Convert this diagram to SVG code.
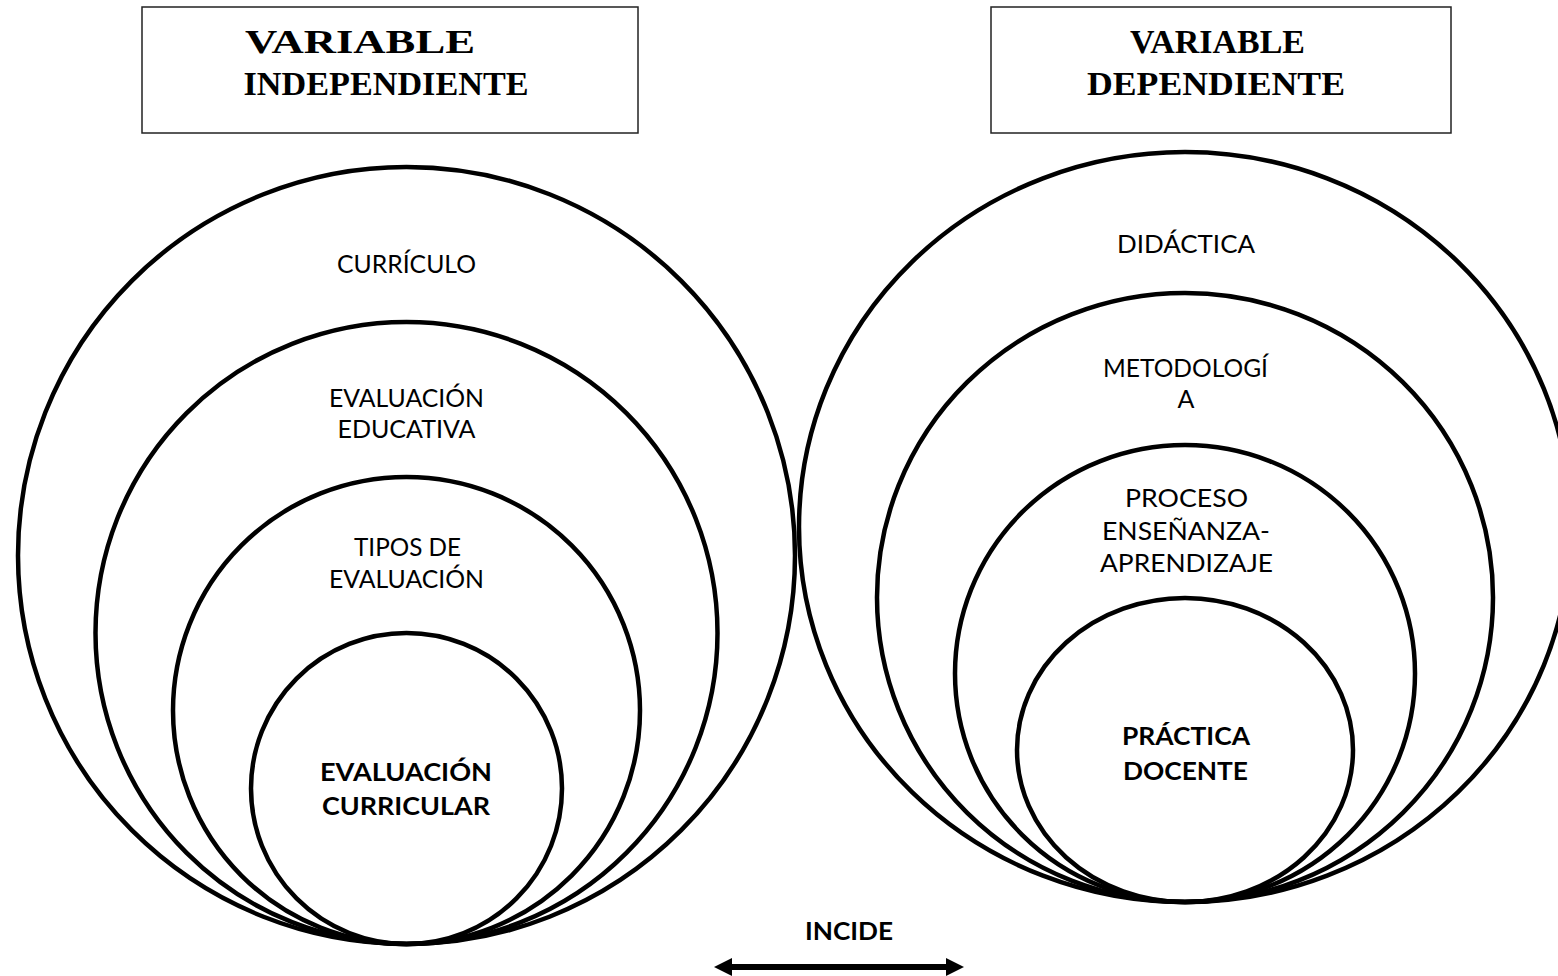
<svg xmlns="http://www.w3.org/2000/svg" width="1558" height="976" viewBox="0 0 1558 976">
<style>
.box{fill:#fff;stroke:#222;stroke-width:1.5}
.ring{fill:none;stroke:#000;stroke-width:4.5}
.hd{font-family:"Liberation Serif","Times New Roman",serif;font-weight:bold;font-size:34px;fill:#000;text-anchor:middle}
.lb{font-family:Lato,"Open Sans",sans-serif;font-size:25px;fill:#000;text-anchor:middle}
.bd{font-weight:bold}
</style>
<defs>
<marker id="ah" viewBox="0 0 18 18" refX="2" refY="9" markerUnits="userSpaceOnUse" markerWidth="18" markerHeight="18" orient="auto-start-reverse">
<path d="M0,0 L18,9 L0,18 z" fill="#000"/>
</marker>
</defs>
<rect width="1558" height="976" fill="#fff"/>
<g id="box-independiente">
<rect class="box" x="142" y="7" width="496" height="126"/>
<text class="hd" x="360" y="53" textLength="230" lengthAdjust="spacingAndGlyphs">VARIABLE</text>
<text class="hd" x="386" y="95" textLength="285" lengthAdjust="spacingAndGlyphs">INDEPENDIENTE</text>
</g>
<g id="box-dependiente">
<rect class="box" x="991" y="7" width="460" height="126"/>
<text class="hd" x="1217.5" y="53" textLength="175" lengthAdjust="spacingAndGlyphs">VARIABLE</text>
<text class="hd" x="1216" y="95" textLength="258" lengthAdjust="spacingAndGlyphs">DEPENDIENTE</text>
</g>
<g id="curriculo">
<circle class="ring" cx="406.5" cy="555.5" r="388.5"/>
<text class="lb" x="406.5" y="273" textLength="139" lengthAdjust="spacingAndGlyphs">CURRÍCULO</text>
</g>
<g id="evaluacion-educativa">
<circle class="ring" cx="406.5" cy="633" r="311"/>
<text class="lb" x="406.5" y="407" textLength="155" lengthAdjust="spacingAndGlyphs">EVALUACIÓN</text>
<text class="lb" x="406.5" y="438" textLength="138" lengthAdjust="spacingAndGlyphs">EDUCATIVA</text>
</g>
<g id="tipos-de-evaluacion">
<circle class="ring" cx="406.5" cy="710.5" r="233.5"/>
<text class="lb" x="407.5" y="556" textLength="107" lengthAdjust="spacingAndGlyphs">TIPOS DE</text>
<text class="lb" x="406.5" y="588" textLength="155" lengthAdjust="spacingAndGlyphs">EVALUACIÓN</text>
</g>
<g id="evaluacion-curricular">
<circle class="ring" cx="406.5" cy="788.5" r="155.5"/>
<text class="lb bd" x="406" y="781" textLength="172" lengthAdjust="spacingAndGlyphs">EVALUACIÓN</text>
<text class="lb bd" x="406" y="815" textLength="168" lengthAdjust="spacingAndGlyphs">CURRICULAR</text>
</g>
<g id="didactica">
<ellipse class="ring" cx="1185" cy="527" rx="386" ry="375"/>
<text class="lb" x="1186" y="253" textLength="138" lengthAdjust="spacingAndGlyphs">DIDÁCTICA</text>
</g>
<g id="metodologia">
<ellipse class="ring" cx="1185" cy="597.5" rx="308" ry="304.5"/>
<text class="lb" x="1185.5" y="377" textLength="165" lengthAdjust="spacingAndGlyphs">METODOLOGÍ</text>
<text class="lb" x="1186" y="408">A</text>
</g>
<g id="proceso-ensenanza-aprendizaje">
<ellipse class="ring" cx="1185" cy="673.5" rx="230" ry="228.5"/>
<text class="lb" x="1186.5" y="507" textLength="123" lengthAdjust="spacingAndGlyphs">PROCESO</text>
<text class="lb" x="1186" y="540" textLength="168" lengthAdjust="spacingAndGlyphs">ENSEÑANZA-</text>
<text class="lb" x="1186.5" y="572" textLength="173" lengthAdjust="spacingAndGlyphs">APRENDIZAJE</text>
</g>
<g id="practica-docente">
<ellipse class="ring" cx="1185" cy="750" rx="168" ry="152"/>
<text class="lb bd" x="1186" y="745" textLength="128" lengthAdjust="spacingAndGlyphs">PRÁCTICA</text>
<text class="lb bd" x="1185.5" y="780" textLength="125" lengthAdjust="spacingAndGlyphs">DOCENTE</text>
</g>
<g id="connectors">
<line x1="730" y1="967" x2="948" y2="967" stroke="#000" stroke-width="6" marker-start="url(#ah)" marker-end="url(#ah)"/>
<text class="lb bd" x="849" y="940" textLength="88" lengthAdjust="spacingAndGlyphs">INCIDE</text>
</g>
</svg>
